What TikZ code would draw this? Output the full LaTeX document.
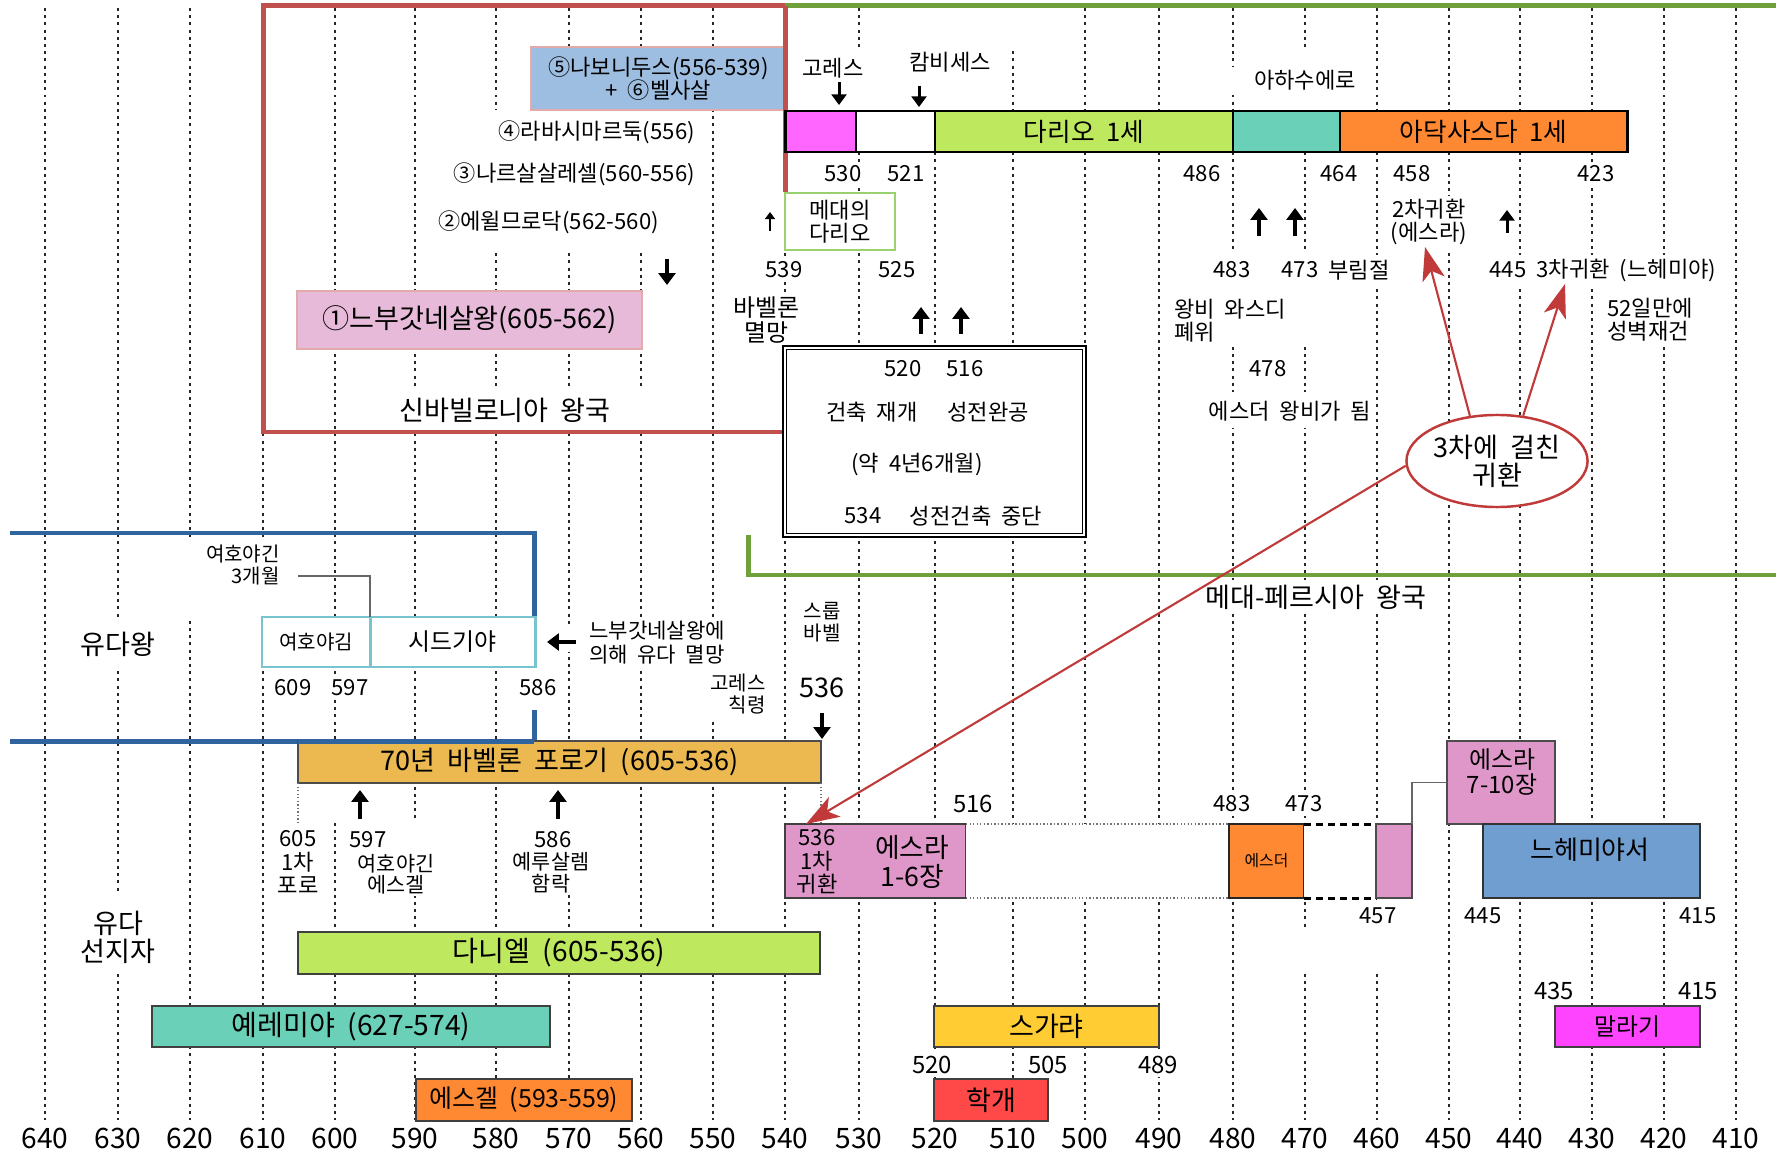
\documentclass[tikz,border=0pt]{standalone}
\usepackage{fontspec}
\setmainfont{Noto Sans CJK KR}[WordSpace=2]
\usetikzlibrary{arrows.meta,shapes.geometric}

\definecolor{cRed}{RGB}{192,80,77}
\definecolor{cGreen}{RGB}{112,160,60}
\definecolor{cBlue}{RGB}{47,100,158}
\definecolor{cCyan}{RGB}{120,196,206}
\definecolor{cLGreen}{RGB}{155,208,110}
\definecolor{cBoxBlue}{RGB}{157,190,225}
\definecolor{cBoxPink}{RGB}{230,186,216}
\definecolor{cBoxBorder}{RGB}{228,170,170}
\definecolor{cMag}{RGB}{255,102,255}
\definecolor{cLime}{RGB}{190,232,94}
\definecolor{cTeal}{RGB}{106,208,183}
\definecolor{cOrange}{RGB}{255,136,51}
\definecolor{cGold}{RGB}{235,185,80}
\definecolor{cYellow}{RGB}{255,204,51}
\definecolor{cRedBox}{RGB}{255,72,72}
\definecolor{cMagB}{RGB}{255,68,255}
\definecolor{cEzra}{RGB}{223,150,200}
\definecolor{cNeh}{RGB}{112,158,208}
\definecolor{cArrow}{RGB}{192,58,58}

\newcommand\fsA{\fontsize{6.3pt}{6.6pt}\selectfont}
\newcommand\fsB{\fontsize{6.8pt}{7.1pt}\selectfont}
\newcommand\fsC{\fontsize{7.7pt}{8pt}\selectfont}
\newcommand\fsD{\fontsize{8pt}{8.4pt}\selectfont}
\newcommand\fsE{\fontsize{5.7pt}{6.4pt}\selectfont}
\newcommand\fsF{\fontsize{4.5pt}{4.8pt}\selectfont}
\newcommand\fsG{\fontsize{7.3pt}{7.6pt}\selectfont}

\tikzset{
  rr/.style args={#1/#2/#3/#4}{minimum width={(#3-#1)*0.01cm}, minimum height={(#4-#2)*0.01cm}, inner sep=0pt, outer sep=0pt, at={({(#1+#3)/2},{(#2+#4)/2})}},
  gridline/.style={line width=0.57pt, dash pattern=on 0.85pt off 1.2pt, black!85},
  lbl/.style={fill=white, inner sep=1pt, align=center, font=\fsA},
  intext/.style={inner sep=0pt, align=center},
  frame/.style={line width=1.42pt, line join=miter},
  bar/.style={draw=black!75, line width=0.5pt},
  bigarr/.style={line width=1.1pt, -{Triangle[length=3.4pt,width=4.8pt]}},
  medarr/.style={line width=0.85pt, -{Triangle[length=3pt,width=4.2pt]}},
  smlarr/.style={line width=0.55pt, -{Triangle[length=2pt,width=2.8pt]}},
  redarr/.style={draw=cArrow, line width=0.6pt, -{Stealth[length=9.5pt,width=6.5pt,inset=2.5pt]}},
  thindot/.style={black!55, line width=0.3pt, dash pattern=on 0.4pt off 0.6pt},
  thickdash/.style={black, line width=0.85pt, dash pattern=on 2pt off 1.4pt},
}
\newcommand\myarr[4]{\coordinate (#1s) at (#2); \coordinate (#1e) at (#3); \draw[#4] (#1s) -- (#1e);}

\begin{document}
\begin{tikzpicture}[x=0.01cm,y=-0.01cm]
\fill[white] (0,0) rectangle (1776,1155);
\useasboundingbox (0,0) rectangle (1776,1155);

% ---------- time grid and axis ----------
\foreach \yr/\x in {640/45,630/118,620/190,610/263,600/335,590/415,580/496,570/569,560/641,550/713,540/785,530/859,520/935,510/1013,500/1085,490/1159,480/1233,470/1305,460/1377,450/1449,440/1520,430/1592,420/1664,410/1736}{
  \draw[gridline] (\x,8) -- (\x,1120);
  \node[font=\fsD, inner sep=0pt] (ax\yr) at (\x,1138) {\yr};
}
% gaps in the grid
\foreach \a/\b/\c/\d in {440/110/700/250, 395/388/655/429, 795/47/875/110, 905/0/995/110, 995/0/1025/47,
  1225/67/1365/95, 1290/47/1365/110, 1170/252/1320/347, 1320/255/1395/285, 1205/392/1375/428,
  1388/198/1470/250, 1600/283/1695/347, 175/537/300/617, 75/617/160/668, 548/628/578/652,
  582/618/735/668, 705/672/772/716, 320/785/345/822, 545/785/578/895, 400/823/440/893,
  75/893/160/973, 1195/580/1440/614, 1290/931/1320/974, 1350/898/1400/974}
  \fill[white] (\a,\b) rectangle (\c,\d);

% ---------- kingdom frames ----------
\draw[frame, cRed] (785,192) -- (785,6) -- (263,6) -- (263,432) -- (783,432);
\draw[frame, cGreen] (785,6) -- (1776,6);
\draw[frame, cGreen] (748,535) -- (748,575) -- (1776,575);
\draw[frame, cBlue] (10,533) -- (534,533) -- (534,617);
\draw[frame, cBlue] (534,710) -- (534,741) -- (10,741);

% ---------- Neo-Babylonian kings ----------
\node[rr=531/47/786/110, fill=cBoxBlue, draw=cBoxBorder, line width=0.6pt, align=center, font=\fsA] (kNabo) {⑤나보니두스(556-539)\\+ ⑥벨사살};
\draw[frame, cRed] (785,6) -- (785,192);
\node[lbl, anchor=east] (kLaba) at (699,132) {④라바시마르둑(556)};
\node[lbl, anchor=east] (kNeri) at (699,174) {③나르살살레셀(560-556)};
\node[lbl, anchor=east] (kEvil) at (663,222) {②에윌므로닥(562-560)};
\myarr{aEvil}{667,259}{667,285}{bigarr}
\node[rr=297/291/642/349, fill=cBoxPink, draw=cBoxBorder, line width=0.6pt, font=\fsC] (kNebu) {①느부갓네살왕(605-562)};
\node[lbl, font=\fsC] (kNeoBab) at (505,410) {신바빌로니아 왕국};

% ---------- Persian kings bar ----------
\node[rr=785/111/856/152, fill=cMag, draw=black, line width=0.6pt] (kCyrus) {};
\node[rr=856/111/935/152, fill=white, draw=black, line width=0.6pt] (kCamb) {};
\node[rr=935/111/1233/152, fill=cLime, draw=black, line width=0.6pt, font=\fsG] (kDarius) {다리오 1세};
\node[rr=1233/111/1340/152, fill=cTeal, draw=black, line width=0.6pt] (kXerxes) {};
\node[rr=1340/111/1627/152, fill=cOrange, draw=black, line width=0.6pt, font=\fsG] (kArta) {아닥사스다 1세};
\draw[line width=0.85pt] (kCyrus.north west) rectangle (kArta.south east);

\node[lbl] (lCyrus) at (833,68) {고레스};
\myarr{aCyrus}{839,82}{839,105}{medarr}
\node[lbl] (lCamb) at (950,62) {캄비세스};
\myarr{aCamb}{919,86}{919,107}{medarr}
\node[lbl] (lAhas) at (1305,80) {아하수에로};

\node[lbl] (y530) at (843,174) {530};
\node[lbl] (y521) at (906,174) {521};
\node[lbl] (y486) at (1202,174) {486};
\node[lbl] (y464) at (1339,174) {464};
\node[lbl] (y458) at (1412,174) {458};
\node[lbl] (y423) at (1596,174) {423};

\node[rr=785/193/895/250, fill=white, draw=cLGreen, line width=0.7pt, align=center, font=\fsA] (kMede) {메대의\\다리오};
\myarr{aMede}{770,231}{770,212}{smlarr}
\node[lbl] (y539) at (784,270) {539};
\node[lbl] (y525) at (897,270) {525};
\node[lbl, font=\fsB] (lFall) at (766,320) {바벨론\\멸망};
\myarr{aUpA}{921,334}{921,307}{bigarr}
\myarr{aUpB}{961,334}{961,307}{bigarr}

% temple box
\node[rr=783/346/1086/537, fill=white, draw=black, line width=0.4pt] (temple) {};
\draw[line width=0.4pt] ([shift={(3.5,3.5)}]temple.north west) rectangle ([shift={(-3.5,-3.5)}]temple.south east);
\node[intext, font=\fsA] (t520) at (903,369) {520};
\node[intext, font=\fsA] (t516) at (965,369) {516};
\node[intext, font=\fsA] (tResume) at (872,412) {건축 재개};
\node[intext, font=\fsA] (tDone) at (988,412) {성전완공};
\node[intext, font=\fsA] (tDur) at (917,465) {(약 4년6개월)};
\node[intext, font=\fsA] (t534) at (863,516) {534};
\node[intext, font=\fsA] (tStop) at (976,516) {성전건축 중단};

% right side notes
\myarr{aUpC}{1259,236}{1259,208}{bigarr}
\myarr{aUpD}{1295,236}{1295,208}{bigarr}
\node[lbl] (y483a) at (1232,270) {483};
\node[lbl] (y473a) at (1300,270) {473};
\node[lbl] (lPurim) at (1359,270) {부림절};
\node[lbl] (lRet2) at (1429,222) {2차귀환\\(에스라)};
\myarr{aUpE}{1507,233}{1507,210}{medarr}
\node[lbl] (lRet3) at (1603,270) {445 3차귀환 (느헤미야)};
\node[lbl, anchor=west, align=left] (lVashti) at (1170,321) {왕비 와스디\\폐위};
\node[lbl, anchor=west, align=left] (lWall) at (1603,320) {52일만에\\성벽재건};
\node[lbl] (y478) at (1268,369) {478};
\node[lbl] (lEsther) at (1290,411) {에스더 왕비가 됨};
\node[lbl, font=\fsC] (kPersia) at (1316,597) {메대-페르시아 왕국};

% ---------- Kings of Judah ----------
\node[lbl, font=\fsC] (lJudahK) at (118,644) {유다왕};
\node[lbl, font=\fsE, anchor=east, align=right] (lJoach) at (284,565) {여호야긴\\3개월};
\node[rr=262/617/370/667, fill=white, draw=cCyan, line width=0.85pt, font=\fsE] (cJehoiachin) {여호야김};
\node[rr=370/617/535/667, fill=white, draw=cCyan, line width=0.85pt, font=\fsB] (cZedekiah) {시드기야};
\coordinate (joachEnd) at (298,576);
\draw[black!60, line width=0.35pt] (joachEnd) -| (cJehoiachin.north east);
\node[lbl] (y609) at (293,688) {609};
\node[lbl] (y597a) at (350,688) {597};
\node[lbl] (y586a) at (538,688) {586};
\myarr{aLeft}{576,642}{547,642}{bigarr}
\node[lbl, anchor=west, align=left, font=\fontsize{6pt}{6.8pt}\selectfont] (lDestroy) at (585,643) {느부갓네살왕에\\의해 유다 멸망};
\node[lbl, font=\fsE] (lZerub) at (822,622) {스룹\\바벨};
\node[lbl, anchor=east, align=right, font=\fsE] (lEdict) at (770,694) {고레스\\칙령};
\node[lbl, font=\fsC] (y536a) at (822,688) {536};
\myarr{aDown536}{822,713}{822,739}{bigarr}

% 70 years captivity
\node[rr=298/741/821/783, fill=cGold, draw=black!70, line width=0.5pt, font=\fsC] (bar70) {70년 바벨론 포로기 (605-536)};
\draw[frame, cBlue] (534,741) -- (298,741);
\coordinate (d605) at (298,822);
\coordinate (d536) at (821,823);
\draw[thindot] (bar70.south west) -- (d605);
\draw[thindot] (bar70.south east) -- (d536);
\myarr{aUp597}{360,819}{360,790}{bigarr}
\myarr{aUp586}{558,819}{558,790}{bigarr}
\node[lbl, inner sep=0.5pt] (l605) at (298,862) {605\\1차\\포로};
\node[lbl, inner sep=0.5pt] (y597b) at (368,840) {597};
\node[lbl, inner sep=0.5pt, font=\fontsize{5.9pt}{6pt}\selectfont] (lProph) at (396,874) {여호야긴\\에스겔};
\node[lbl, inner sep=0.5pt] (y586b) at (553,840) {586};
\node[lbl, inner sep=0.5pt, font=\fontsize{5.9pt}{6.2pt}\selectfont] (lJerus) at (551,873) {예루살렘\\함락};

% ---------- Ezra / Esther / Nehemiah row ----------
\node[rr=785/824/966/898, fill=cEzra, draw=black!75, line width=0.45pt] (bEzra1) {};
\node[intext, font=\fsA] (lRet1) at (817,862) {536\\1차\\귀환};
\node[intext, font=\fontsize{7.6pt}{8.2pt}\selectfont] (lEzra1) at (912,862) {에스라\\1-6장};
\node[rr=966/824/1229/898, fill=white] (gapA) {};
\draw[thindot] (gapA.north west) -- (gapA.north east);
\draw[thindot] (gapA.south west) -- (gapA.south east);
\node[rr=1229/824/1304/898, fill=cOrange, draw=black!85, line width=0.45pt, font=\fsF] (bEsther) {에스더};
\node[rr=1304/824/1376/898, fill=white] (gapB) {};
\draw[thickdash] (gapB.north west) -- (gapB.north east);
\draw[thickdash] (gapB.south west) -- (gapB.south east);
\node[rr=1376/824/1412/898, fill=cEzra, draw=black!70, line width=0.4pt] (bEzraS) {};
\node[rr=1447/741/1555/824, fill=cEzra, draw=black!70, line width=0.4pt] (bEzra2) {};
\node[intext, font=\fsB] (lEzra2) at (1502,772) {에스라\\7-10장};
\draw[black!60, line width=0.35pt] (bEzraS.north east) |- (bEzra2.west);
\node[rr=1483/824/1700/898, fill=cNeh, draw=black!80, line width=0.45pt] (bNeh) {};
\node[intext, font=\fontsize{7.4pt}{7.8pt}\selectfont] (lNeh) at (1590,850) {느헤미야서};
\node[lbl, font=\fsB] (y516) at (973,804) {516};
\node[lbl] (y483b) at (1232,804) {483};
\node[lbl] (y473b) at (1304,804) {473};
\node[lbl] (y457) at (1378,916) {457};
\node[lbl] (y445) at (1483,916) {445};
\node[lbl] (y415a) at (1698,916) {415};

% ---------- Prophets ----------
\node[lbl, font=\fsC] (lProphets) at (118,937) {유다\\선지자};
\node[rr=298/932/820/974, fill=cLime, bar, font=\fsD] (bDaniel) {다니엘 (605-536)};
\node[rr=152/1006/550/1047, fill=cTeal, bar, font=\fsD] (bJer) {예레미야 (627-574)};
\node[rr=416/1079/632/1121, fill=cOrange, bar, font=\fontsize{7.1pt}{7.4pt}\selectfont] (bEzek) {에스겔 (593-559)};
\node[rr=934/1006/1159/1047, fill=cYellow, bar, font=\fsC] (bZech) {스가랴};
\node[rr=934/1079/1048/1121, fill=cRedBox, bar, font=\fsC] (bHag) {학개};
\node[rr=1555/1006/1700/1047, fill=cMagB, bar, font=\fsB] (bMal) {말라기};
\node[lbl, font=\fsB] (y520) at (932,1065) {520};
\node[lbl, font=\fsB] (y505) at (1048,1065) {505};
\node[lbl, font=\fsB] (y489) at (1158,1065) {489};
\node[lbl, font=\fsB] (y435) at (1554,991) {435};
\node[lbl, font=\fsB] (y415b) at (1698,991) {415};

% ---------- three returns ----------
\node[ellipse, draw=cArrow, line width=0.7pt, fill=white, minimum width=1.81cm, minimum height=0.92cm, inner sep=0pt, align=center, font=\fsC] (three) at (1497,461) {3차에 걸친\\귀환};
\coordinate (tipR2) at (1425,247);
\coordinate (tipR3) at (1565,284);
\coordinate (tipR1) at (806,824);
\draw[redarr] (three.121) -- (tipR2);
\draw[redarr] (three.60) -- (tipR3);
\draw[redarr] (three.183) -- (tipR1);
\end{tikzpicture}
\end{document}
